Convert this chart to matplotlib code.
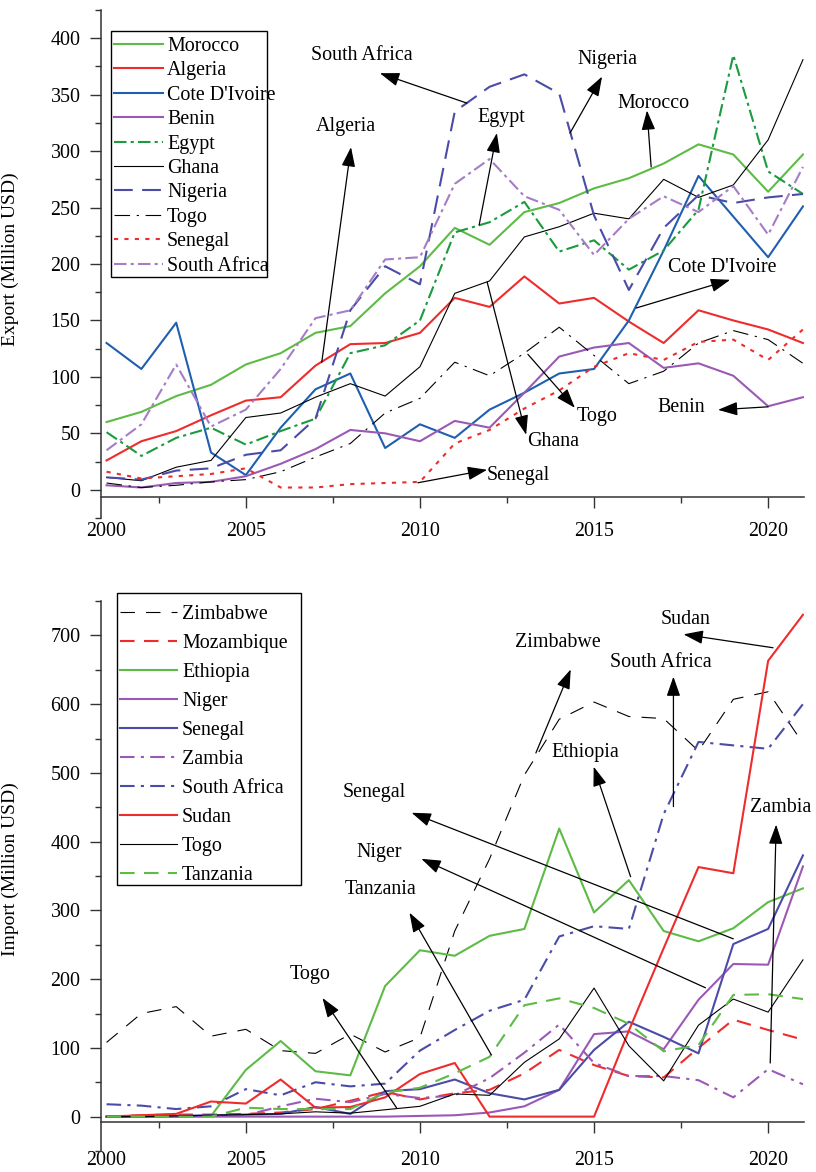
import matplotlib
matplotlib.use('Agg')
import matplotlib.pyplot as plt
from matplotlib.patches import Rectangle
from matplotlib.ticker import MultipleLocator, FixedLocator

plt.rcParams['font.family'] = ['Liberation Serif', 'DejaVu Serif']

# years on the x axis
years = list(range(2001, 2022))

# export values (Million USD)
morocco = [60, 69, 83, 93, 111, 121, 139, 145, 174, 198, 232, 217, 246, 254, 267, 276, 289, 306, 297, 264, 297]
algeria = [26, 43, 52, 66, 79, 82, 110, 129, 130, 139, 170, 162, 189, 165, 170, 149, 130, 159, 150, 142, 130]
cote_divoire = [130, 107, 148, 33, 13, 55, 89, 103, 37, 58, 46, 71, 86, 103, 107, 150, 212, 278, 242, 206, 251]
benin = [4, 2, 6, 7, 12, 23, 36, 53, 50, 43, 61, 55, 86, 118, 126, 130, 108, 112, 101, 74, 82]
egypt = [51, 30, 46, 55, 40, 52, 63, 121, 128, 150, 228, 237, 255, 211, 221, 195, 212, 248, 385, 282, 262]
ghana = [11, 8, 20, 26, 64, 68, 82, 94, 83, 109, 174, 185, 224, 233, 245, 240, 275, 259, 270, 310, 381]
nigeria = [11, 9, 17, 19, 31, 35, 63, 159, 198, 182, 335, 357, 368, 351, 243, 177, 232, 261, 254, 259, 262]
togo_exp = [6, 2, 4, 7, 9, 16, 29, 41, 68, 81, 113, 101, 121, 144, 119, 94, 105, 130, 141, 133, 112]
senegal_exp = [16, 10, 12, 14, 19, 2, 2, 5, 6, 7, 41, 53, 72, 88, 109, 121, 115, 131, 133, 115, 142]
south_africa_exp = [35, 58, 111, 56, 71, 107, 152, 159, 204, 206, 271, 293, 260, 248, 208, 240, 260, 246, 269, 226, 286]

# import values (Million USD)
zimbabwe = [108, 150, 160, 117, 127, 96, 92, 120, 94, 115, 270, 375, 497, 578, 603, 582, 579, 532, 607, 618, 543]
mozambique = [0, 2, 3, 3, 4, 6, 11, 23, 36, 25, 34, 39, 63, 97, 75, 59, 57, 100, 141, 126, 112]
ethiopia = [0, 0, 0, 1, 68, 110, 66, 60, 190, 242, 234, 263, 273, 419, 297, 344, 270, 255, 274, 312, 332]
niger = [0, 0, 0, 0, 0, 0, 0, 0, 0, 1, 2, 6, 15, 39, 120, 124, 98, 170, 222, 221, 364]
senegal_imp = [0, 0, 1, 2, 3, 4, 14, 4, 37, 40, 54, 34, 25, 39, 97, 138, 116, 92, 251, 273, 380]
zambia = [0, 0, 0, 1, 2, 15, 26, 21, 33, 27, 31, 56, 93, 134, 78, 59, 59, 53, 28, 69, 47]
south_africa_imp = [18, 16, 11, 15, 40, 31, 50, 44, 48, 96, 126, 154, 170, 262, 277, 273, 440, 545, 540, 535, 600]
sudan = [0, 2, 4, 22, 19, 54, 13, 14, 28, 62, 78, 0, 0, 0, 0, 125, 245, 363, 354, 663, 730]
togo_imp = [0, 0, 1, 2, 3, 4, 7, 5, 10, 15, 33, 31, 79, 113, 187, 103, 52, 133, 171, 152, 228]
tanzania = [0, 0, 0, 0, 13, 11, 11, 11, 35, 42, 63, 87, 162, 172, 158, 135, 95, 104, 177, 178, 171]

xtick_pos = [2001, 2005, 2010, 2015, 2020]
xtick_lab = ['2000', '2005', '2010', '2015', '2020']

GREEN = '#5DBB46'
RED = '#EE2C2C'
BLUE = '#1F5FAF'
PURPLE = '#9B59B6'
DGREEN = '#199B3E'
NAVY = '#4B4BA8'
LAVENDER = '#A57DC6'
FS = 14.4
W, H = 816, 1172

fig = plt.figure(figsize=(8.16, 11.72), dpi=100)
ax1 = fig.add_axes([101/W, 1-518/H, 703/W, 508/H])
ax2 = fig.add_axes([101/W, 1-1151/H, 703/W, 550/H])


def style_axis(ax, ylim, major, minor, xaxis_y, xpad, ylabel, label_y):
    ax.set_xlim(2000.84, 2021.03)
    ax.set_ylim(*ylim)
    for s in ['top', 'right']:
        ax.spines[s].set_visible(False)
    for s in ['left', 'bottom']:
        ax.spines[s].set_color('#333333')
        ax.spines[s].set_linewidth(1.1)
    ax.spines['bottom'].set_position(('data', xaxis_y))
    ax.yaxis.set_major_locator(MultipleLocator(major))
    ax.yaxis.set_minor_locator(MultipleLocator(minor))
    ax.xaxis.set_major_locator(FixedLocator(xtick_pos))
    ax.set_xticklabels(xtick_lab)
    ax.xaxis.set_minor_locator(FixedLocator([2002.5, 2007.5, 2012.5, 2017.5]))
    ax.tick_params(axis='both', which='major', length=8.2, width=1, color='#333333',
                   labelsize=FS, direction='out')
    ax.tick_params(axis='both', which='minor', length=4.2, width=1, color='#333333',
                   direction='out')
    ax.tick_params(axis='y', which='major', pad=6.5)
    ax.tick_params(axis='x', which='major', pad=xpad)
    ax.xaxis.get_major_ticks()[0].tick1line.set_visible(False)
    ax.set_ylabel(ylabel, fontsize=14)
    ax.yaxis.set_label_coords(-0.116, label_y)


def legend_box(ax, left, top, right, box_top, box_bottom, hlen, hpad, lspace):
    # legend without its own frame, then a plain box drawn at the reference spot
    leg = ax.legend(loc='upper left', bbox_to_anchor=(left/W, 1-top/H),
                    bbox_transform=fig.transFigure, borderaxespad=0, fontsize=FS,
                    frameon=False, handlelength=hlen, handletextpad=hpad,
                    labelspacing=lspace, borderpad=0)
    fig.patches.append(Rectangle(((left - 2.5)/W, 1-box_bottom/H), (right-left+2.5)/W,
                                 (box_bottom-box_top)/H, transform=fig.transFigure,
                                 fill=False, edgecolor='black', lw=1.0))
    return leg


def note(ax, label, text_xy, start, tip):
    ax.text(text_xy[0], text_xy[1], label, ha='center', va='center', fontsize=FS)
    ax.annotate('', xy=tip, xytext=start,
                arrowprops=dict(arrowstyle='-|>,head_length=0.8,head_width=0.28',
                                color='black', lw=0.9, mutation_scale=15,
                                shrinkA=0, shrinkB=0))


# ---- Export panel ----
ax1.plot(years, morocco, color=GREEN, lw=1.5, label='Morocco')
ax1.plot(years, algeria, color=RED, lw=1.5, label='Algeria')
ax1.plot(years, cote_divoire, color=BLUE, lw=1.5, label="Cote D'Ivoire")
ax1.plot(years, benin, color=PURPLE, lw=1.5, label='Benin')
ax1.plot(years, egypt, color=DGREEN, lw=1.5, ls=(0, (6, 2, 1.5, 2)), label='Egypt')
ax1.plot(years, ghana, color='black', lw=0.8, label='Ghana')
ax1.plot(years, nigeria, color=NAVY, lw=1.5, ls=(0, (9, 4.5)), label='Nigeria')
ax1.plot(years, togo_exp, color='black', lw=0.8, ls=(0, (14, 6, 2, 6)), label='Togo')
ax1.plot(years, senegal_exp, color=RED, lw=1.5, ls=(0, (2, 3)), label='Senegal')
ax1.plot(years, south_africa_exp, color=LAVENDER, lw=1.5, ls=(0, (6, 2, 1.5, 2)), label='South Africa')

style_axis(ax1, (-25, 425), 50, 25, -6.2, 10, 'Export (Million USD)', 0.51)
legend_box(ax1, 114, 37, 267, 31, 277, 2.45, 0.2, 0.27)

note(ax1, 'South Africa', (2008.33, 385), (2011.35, 342.5), (2008.85, 369))
note(ax1, 'Algeria', (2007.87, 322), (2007.18, 113), (2008.02, 303.5))
note(ax1, 'Egypt', (2012.33, 330), (2011.7, 234.5), (2012.21, 316))
note(ax1, 'Nigeria', (2015.37, 381), (2014.31, 316), (2015.23, 366))
note(ax1, 'Morocco', (2016.72, 342.5), (2016.64, 286), (2016.52, 336))
note(ax1, "Cote D'Ivoire", (2018.68, 196.5), (2016.21, 161), (2018.91, 186))
note(ax1, 'Togo', (2015.09, 64.6), (2013.1, 120), (2014.45, 72.6))
note(ax1, 'Ghana', (2013.82, 42.5), (2011.93, 184), (2013.05, 48.7))
note(ax1, 'Senegal', (2012.82, 12.4), (2009.94, 6.2), (2011.93, 17.7))
note(ax1, 'Benin', (2017.5, 72.6), (2020.0, 73.5), (2018.56, 70.8))

# ---- Import panel ----
ax2.plot(years, zimbabwe, color='black', lw=0.8, ls=(0, (13, 10)), label='Zimbabwe')
ax2.plot(years, mozambique, color=RED, lw=1.5, ls=(0, (7, 4.5)), label='Mozambique')
ax2.plot(years, ethiopia, color=GREEN, lw=1.5, label='Ethiopia')
ax2.plot(years, niger, color=PURPLE, lw=1.5, label='Niger')
ax2.plot(years, senegal_imp, color=NAVY, lw=1.5, label='Senegal')
ax2.plot(years, zambia, color=PURPLE, lw=1.5, ls=(0, (7, 3, 1.5, 3)), label='Zambia')
ax2.plot(years, south_africa_imp, color=NAVY, lw=1.5, ls=(0, (7, 3, 1.5, 3)), label='South Africa')
ax2.plot(years, sudan, color=RED, lw=1.5, label='Sudan')
ax2.plot(years, togo_imp, color='black', lw=0.8, label='Togo')
ax2.plot(years, tanzania, color=GREEN, lw=1.5, ls=(0, (7, 4.5)), label='Tanzania')

style_axis(ax2, (-50, 750), 100, 50, -7.3, 13, 'Import (Million USD)', 0.513)
legend_box(ax2, 120, 605, 301, 593, 885, 2.85, 0.25, 0.5)

note(ax2, 'Sudan', (2017.63, 723), (2020.14, 682), (2017.57, 701.5))
note(ax2, 'Zimbabwe', (2013.96, 689.5), (2013.33, 529), (2014.33, 650.5))
note(ax2, 'South Africa', (2016.91, 660.5), (2017.28, 451), (2017.28, 640))
note(ax2, 'Ethiopia', (2014.76, 529.6), (2016.05, 349), (2014.99, 509))
note(ax2, 'Zambia', (2020.37, 449.5), (2020.06, 78), (2020.23, 424.8))
note(ax2, 'Senegal', (2008.7, 471), (2019.0, 258.6), (2009.76, 442))
note(ax2, 'Niger', (2008.84, 384), (2018.2, 187.4), (2010.04, 375))
note(ax2, 'Tanzania', (2008.87, 330), (2012.05, 89.8), (2009.7, 296.6))
note(ax2, 'Togo', (2006.84, 206), (2009.33, 12.7), (2007.2, 172.6))

fig.savefig('out.png', dpi=100)
